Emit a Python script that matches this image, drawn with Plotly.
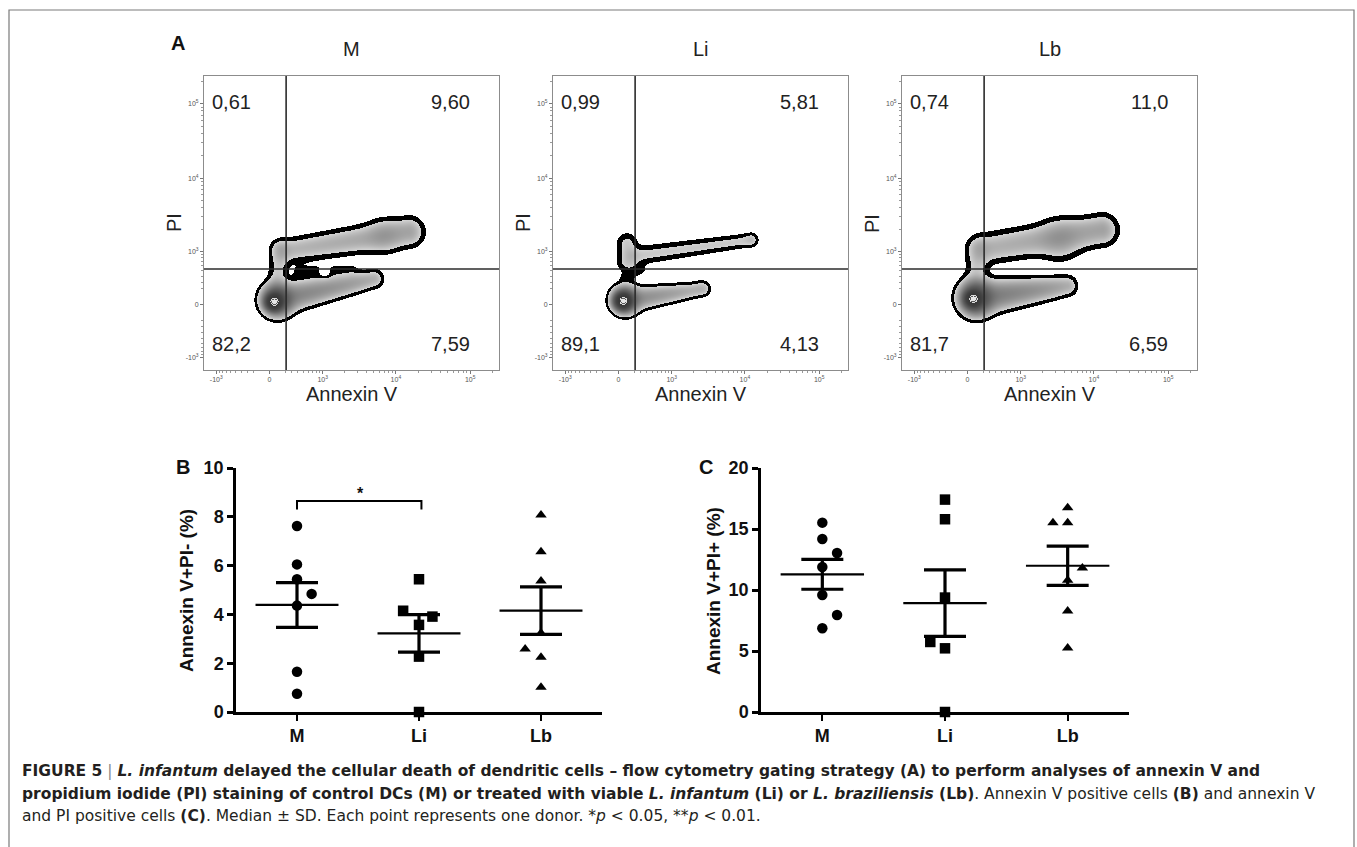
import numpy as np
import plotly.graph_objects as go

W, H = 1357, 847

# ---------------- Panel A : flow cytometry (Annexin V vs PI) ----------------
samples = ["M", "Li", "Lb"]
quad_M = ["0,61", "9,60", "82,2", "7,59"]     # UL, UR, LL, LR
quad_Li = ["0,99", "5,81", "89,1", "4,13"]
quad_Lb = ["0,74", "11,0", "81,7", "6,59"]
gate_annexin = 215      # quadrant gate (fluorescence)
gate_pi = 534
flow_ticks = [-1000, 0, 1000, 10000, 100000]
flow_ticktext = ["-10<sup>3</sup>", "0", "10<sup>3</sup>", "10<sup>4</sup>", "10<sup>5</sup>"]

# cell populations: (annexin0, pi0, annexin1, pi1, spread0, spread1, weight0, weight1)
pops_M = [
    (56, 31, 56, 31, 4.5, 4.5, 1.0, 1.0),
    (94, 56, 94, 56, 8, 8, 0.3, 0.3),
    (132, 68, 5076, 350, 8, 5.5, 0.10, 0.035),
    (186, 1010, 15020, 1866, 7, 8.5, 0.03, 0.045),
    (6923, 1643, 6923, 1643, 10, 10, 0.02, 0.02),
    (81, 159, 132, 1044, 6, 6, 0.02, 0.02),
    (436, 474, 2401, 493, 6, 6, 0.008, 0.008),
    (1079, 436, 1079, 436, 4, 4, -0.012, -0.012),
]
pops_Li = [
    (56, 43, 56, 43, 4.5, 4.5, 1.0, 1.0),
    (81, 56, 81, 56, 7, 7, 0.28, 0.28),
    (119, 56, 2722, 199, 6.5, 4.5, 0.08, 0.025),
    (2556, 213, 2556, 213, 5, 5, 0.008, 0.008),
    (213, 853, 12090, 1446, 6, 4.5, 0.02, 0.02),
    (106, 700, 106, 1300, 6.5, 6.5, 0.02, 0.02),
    (12090, 1446, 12090, 1446, 4, 4, 0.008, 0.008),
    (81, 367, 302, 513, 4, 4, 0.008, 0.008),
]
pops_Lb = [
    (68, 68, 68, 68, 4.5, 4.5, 1.0, 1.0),
    (106, 81, 106, 81, 8.5, 8.5, 0.35, 0.35),
    (132, 81, 4345, 242, 9, 6, 0.13, 0.04),
    (213, 1079, 12860, 1988, 9, 9, 0.035, 0.05),
    (3495, 1446, 3495, 1446, 12, 12, 0.03, 0.03),
    (94, 186, 132, 1044, 7, 7, 0.02, 0.02),
]

# ---------------- Panel B / C : scatter with mean +/- SEM ----------------
groups = ["M", "Li", "Lb"]
B_M = [7.62, 6.05, 5.44, 4.84, 4.36, 1.65, 0.75]
B_Li = [5.44, 4.15, 3.91, 3.57, 2.27, 0.0]
B_Lb = [8.07, 6.57, 5.37, 3.24, 2.58, 2.24, 1.01]
C_M = [15.52, 14.18, 13.03, 11.89, 9.59, 7.95, 6.86]
C_Li = [17.41, 15.80, 9.38, 5.74, 5.22, 0.0]
C_Lb = [16.75, 15.52, 15.52, 11.80, 10.79, 8.28, 5.25]
B_M_jit = [0, 0, 0, 0.12, 0, 0, 0]
B_Li_jit = [0, -0.13, 0.11, 0, 0, 0]
B_Lb_jit = [0, 0, 0, 0, -0.13, 0, 0]
C_M_jit = [0, 0, 0.12, 0, 0, 0.12, 0]
C_Li_jit = [0, 0, 0, -0.12, 0, 0]
C_Lb_jit = [0, -0.12, 0, 0.12, 0, 0, 0]
symbols = ["circle", "square", "triangle-up"]
B_ticks = [0, 2, 4, 6, 8, 10]
C_ticks = [0, 5, 10, 15, 20]

# ------------------------------------------------------------------------
def disp(v):
    return 65.5 + 32.3 * np.arcsinh(np.asarray(v, dtype=float) / 400.0)

GX = np.arange(295) + 0.5
GY = np.arange(294) + 0.5
XX, YY = np.meshgrid(GX, GY)


def density(pops):
    D = np.zeros_like(XX)
    for a0, p0, a1, p1, s0, s1, w0, w1 in pops:
        x0, y0, x1, y1 = disp(a0), disp(p0), disp(a1), disp(p1)
        dx, dy = x1 - x0, y1 - y0
        L2 = dx * dx + dy * dy
        if L2 == 0:
            t = np.zeros_like(XX)
        else:
            t = np.clip(((XX - x0) * dx + (YY - y0) * dy) / L2, 0, 1)
        px, py = x0 + t * dx, y0 + t * dy
        d2 = (XX - px) ** 2 + (YY - py) ** 2
        s = s0 + t * (s1 - s0)
        w = w0 + t * (w1 - w0)
        D += w * np.exp(-d2 / (2 * s * s))
    D = np.maximum(D, 0)
    D /= D.max()
    Z = np.clip((np.log10(np.maximum(D, 1e-6)) + 3) / 3, 0, 1)
    return np.round(Z, 3).astype(np.float32)


flow_cs = [
    [0.0, "#ffffff"], [0.22, "#ffffff"],
    [0.22, "#000000"], [0.36, "#000000"],
    [0.36, "#d4d4d4"], [0.48, "#acacac"], [0.60, "#878787"],
    [0.72, "#626262"], [0.85, "#434343"], [0.955, "#363636"],
    [0.955, "#dcdcdc"], [0.972, "#dcdcdc"], [0.972, "#5a5a5a"], [0.984, "#5a5a5a"],
    [0.984, "#e6e6e6"], [1.0, "#e6e6e6"],
]

fig = go.Figure()
layout = dict(
    width=W, height=H, margin=dict(l=0, r=0, t=0, b=0, pad=0, autoexpand=False),
    autosize=False,
    paper_bgcolor="white", plot_bgcolor="white", showlegend=False,
    font=dict(family="Liberation Sans, Arial, sans-serif", color="#222222"),
)
annotations = []
shapes = []

flow_left = [204, 553, 902]
flow_top, flow_bot = 76, 370
flow_pops = [pops_M, pops_Li, pops_Lb]
flow_quads = [quad_M, quad_Li, quad_Lb]

minor_vals = []
for k in [2, 3, 4]:
    for m in range(2, 10):
        minor_vals.append(m * 10 ** k)
for m in range(2, 10):
    minor_vals.append(-m * 100)
minor_vals.append(200000)
minor_disp = [float(v) for v in disp(minor_vals)]
tick_disp = [float(v) for v in disp(flow_ticks)]

for i, name in enumerate(samples):
    n = "" if i == 0 else str(i + 1)
    xa, ya = "x" + n, "y" + n
    L = flow_left[i]
    Z = density(flow_pops[i])
    fig.add_trace(go.Heatmap(x=GX, y=GY, z=Z, colorscale=flow_cs, zmin=0, zmax=1,
                             showscale=False, hoverinfo="skip", xaxis=xa, yaxis=ya))
    axcommon = dict(showline=True, mirror=True, linecolor="#8c8c8c", linewidth=1,
                    ticks="outside", ticklen=3, tickcolor="#777", tickwidth=1,
                    tickvals=tick_disp, ticktext=flow_ticktext, automargin=False,
                    tickfont=dict(size=7, color="#555"), showgrid=False, zeroline=False,
                    minor=dict(tickvals=minor_disp, ticks="outside", ticklen=2,
                               tickcolor="#999", tickwidth=1))
    layout["xaxis" + n] = dict(axcommon, domain=[L / W, (L + 295) / W], range=[0, 295],
                               anchor=ya)
    layout["yaxis" + n] = dict(axcommon, domain=[1 - flow_bot / H, 1 - flow_top / H],
                               range=[0, 294], anchor=xa)
    gx = float(disp(gate_annexin))
    gy = float(disp(gate_pi))
    shapes.append(dict(type="line", xref=xa, yref=ya, x0=gx, x1=gx, y0=0, y1=294,
                       line=dict(color="#2b2b2b", width=1.6)))
    shapes.append(dict(type="line", xref=xa, yref=ya, x0=0, x1=295, y0=gy, y1=gy,
                       line=dict(color="#2b2b2b", width=1.6)))
    q = flow_quads[i]
    qf = dict(size=20, color="#222")
    annotations += [
        dict(text=q[0], xref=xa + " domain", yref=ya + " domain", x=6 / 295, y=(370 - 102) / 294,
             xanchor="left", yanchor="middle", showarrow=False, font=qf),
        dict(text=q[1], xref=xa + " domain", yref=ya + " domain", x=1 - 27 / 295, y=(370 - 102) / 294,
             xanchor="right", yanchor="middle", showarrow=False, font=qf),
        dict(text=q[2], xref=xa + " domain", yref=ya + " domain", x=6 / 295, y=(370 - 344) / 294,
             xanchor="left", yanchor="middle", showarrow=False, font=qf),
        dict(text=q[3], xref=xa + " domain", yref=ya + " domain", x=1 - 27 / 295, y=(370 - 344) / 294,
             xanchor="right", yanchor="middle", showarrow=False, font=qf),
        dict(text=name, xref="paper", yref="paper", x=(L + 147.5) / W, y=1 - 49 / H,
             xanchor="center", yanchor="middle", showarrow=False, font=dict(size=20, color="#222")),
        dict(text="PI", xref="paper", yref="paper", x=(L - 30) / W, y=1 - 223 / H, textangle=-90,
             xanchor="center", yanchor="middle", showarrow=False, font=dict(size=20, color="#222")),
        dict(text="Annexin V", xref="paper", yref="paper", x=(L + 147.5) / W, y=1 - 394 / H,
             xanchor="center", yanchor="middle", showarrow=False, font=dict(size=20, color="#222")),
    ]

annotations.append(dict(text="<b>A</b>", xref="paper", yref="paper", x=178 / W, y=1 - 43 / H,
                        xanchor="center", yanchor="middle", showarrow=False,
                        font=dict(size=20, color="#111")))

# ---------------- B and C ----------------
def add_dot_panel(idx, data, jits, ticks, ymax, left, right, title, letter, letter_x, title_x):
    n = str(idx)
    xa, ya = "x" + n, "y" + n
    for g, (vals, jit) in enumerate(zip(data, jits)):
        vals = np.array(vals, dtype=float)
        xs = [g + j for j in jit]
        fig.add_trace(go.Scatter(x=xs, y=vals, mode="markers", cliponaxis=False,
                                 marker=dict(symbol=symbols[g], size=10.5 if g != 2 else 10,
                                             color="black", line=dict(width=0)),
                                 xaxis=xa, yaxis=ya, hoverinfo="skip"))
        mean = vals.mean()
        sem = vals.std(ddof=1) / np.sqrt(len(vals))
        fig.add_trace(go.Scatter(x=[g - 0.34, g + 0.34], y=[mean, mean], mode="lines",
                                 line=dict(color="black", width=2.2), cliponaxis=False,
                                 xaxis=xa, yaxis=ya, hoverinfo="skip"))
        fig.add_trace(go.Scatter(x=[g], y=[mean], mode="markers", cliponaxis=False,
                                 marker=dict(size=1, color="rgba(0,0,0,0)"),
                                 error_y=dict(type="data", array=[sem], visible=True,
                                              thickness=3.2, width=21, color="black"),
                                 xaxis=xa, yaxis=ya, hoverinfo="skip"))
    bf = dict(size=18, color="#111", weight="bold")
    layout["xaxis" + n] = dict(domain=[left / W, right / W], range=[-0.5, 2.5], anchor=ya,
                               showline=True, linecolor="black", linewidth=2.5, automargin=False,
                               ticks="outside", ticklen=6, tickwidth=2, tickcolor="black",
                               tickvals=[0, 1, 2], ticktext=groups, tickfont=bf,
                               showgrid=False, zeroline=False)
    layout["yaxis" + n] = dict(domain=[1 - 712 / H, 1 - 468 / H], range=[0, ymax], anchor=xa,
                               showline=True, linecolor="black", linewidth=2.5, automargin=False,
                               ticks="outside", ticklen=6, tickwidth=2.5, tickcolor="black",
                               tickvals=ticks, tickfont=bf, showgrid=False, zeroline=False)
    annotations.append(dict(text=title, xref="paper", yref="paper", x=title_x / W, y=1 - 591 / H,
                            textangle=-90, xanchor="center", yanchor="middle", showarrow=False,
                            font=dict(size=19, color="#111", weight="bold")))
    annotations.append(dict(text=letter, xref="paper", yref="paper", x=letter_x / W, y=1 - 467 / H,
                            xanchor="center", yanchor="middle", showarrow=False,
                            font=dict(size=20, color="#111", weight="bold")))


add_dot_panel(4, [B_M, B_Li, B_Lb], [B_M_jit, B_Li_jit, B_Lb_jit], B_ticks, 10, 236, 602,
              "Annexin V+PI- (%)", "B", 183, 186)
add_dot_panel(5, [C_M, C_Li, C_Lb], [C_M_jit, C_Li_jit, C_Lb_jit], C_ticks, 20, 761, 1129,
              "Annexin V+PI+ (%)", "C", 706, 713)

# significance bracket M vs Li (panel B)
shapes.append(dict(type="path", xref="x4", yref="y4", path="M 0,8.3 L 0,8.65 L 1.02,8.65 L 1.02,8.3",
                   line=dict(color="black", width=2)))
annotations.append(dict(text="<b>*</b>", xref="x4", yref="y4", x=0.52, y=8.95, showarrow=False,
                        font=dict(size=16, color="#111")))

# ---------------- frame and caption ----------------
shapes.append(dict(type="rect", xref="paper", yref="paper", x0=9 / W, x1=1354 / W,
                   y0=-0.05, y1=1 - 10 / H, line=dict(color="#7a7a7a", width=1.2),
                   fillcolor="rgba(0,0,0,0)", layer="below"))

cap_font = dict(size=15.5, color="#231f20", family="DejaVu Sans, Liberation Sans, sans-serif")
cap_lines = [
    "<b>FIGURE 5</b> <span style='color:#888'>|</span> <b><i>L. infantum</i> delayed the cellular death of dendritic cells – flow cytometry gating strategy (A) to perform analyses of annexin V and</b>",
    "<b>propidium iodide (PI) staining of control DCs (M) or treated with viable <i>L. infantum</i> (Li) or <i>L. braziliensis</i> (Lb)</b>. Annexin V positive cells <b>(B)</b> and annexin V",
    "and PI positive cells <b>(C)</b>. Median ± SD. Each point represents one donor. *<i>p</i> &lt; 0.05, **<i>p</i> &lt; 0.01.",
]
for k, (txt, yc) in enumerate(zip(cap_lines, [771, 794, 816])):
    annotations.append(dict(text=txt, xref="paper", yref="paper", x=20 / W, y=1 - yc / H,
                            xanchor="left", yanchor="middle", showarrow=False, font=cap_font))

layout["annotations"] = annotations
layout["shapes"] = shapes
fig.update_layout(**layout)

post = ("document.body.style.margin='0';document.body.style.overflow='hidden';"
        "var gd=document.getElementById('{plot_id}');gd.style.position='fixed';"
        "gd.style.top='0px';gd.style.left='0px';")
fig.write_html("out.html", include_plotlyjs=True, config={"displayModeBar": False},
               post_script=post)
